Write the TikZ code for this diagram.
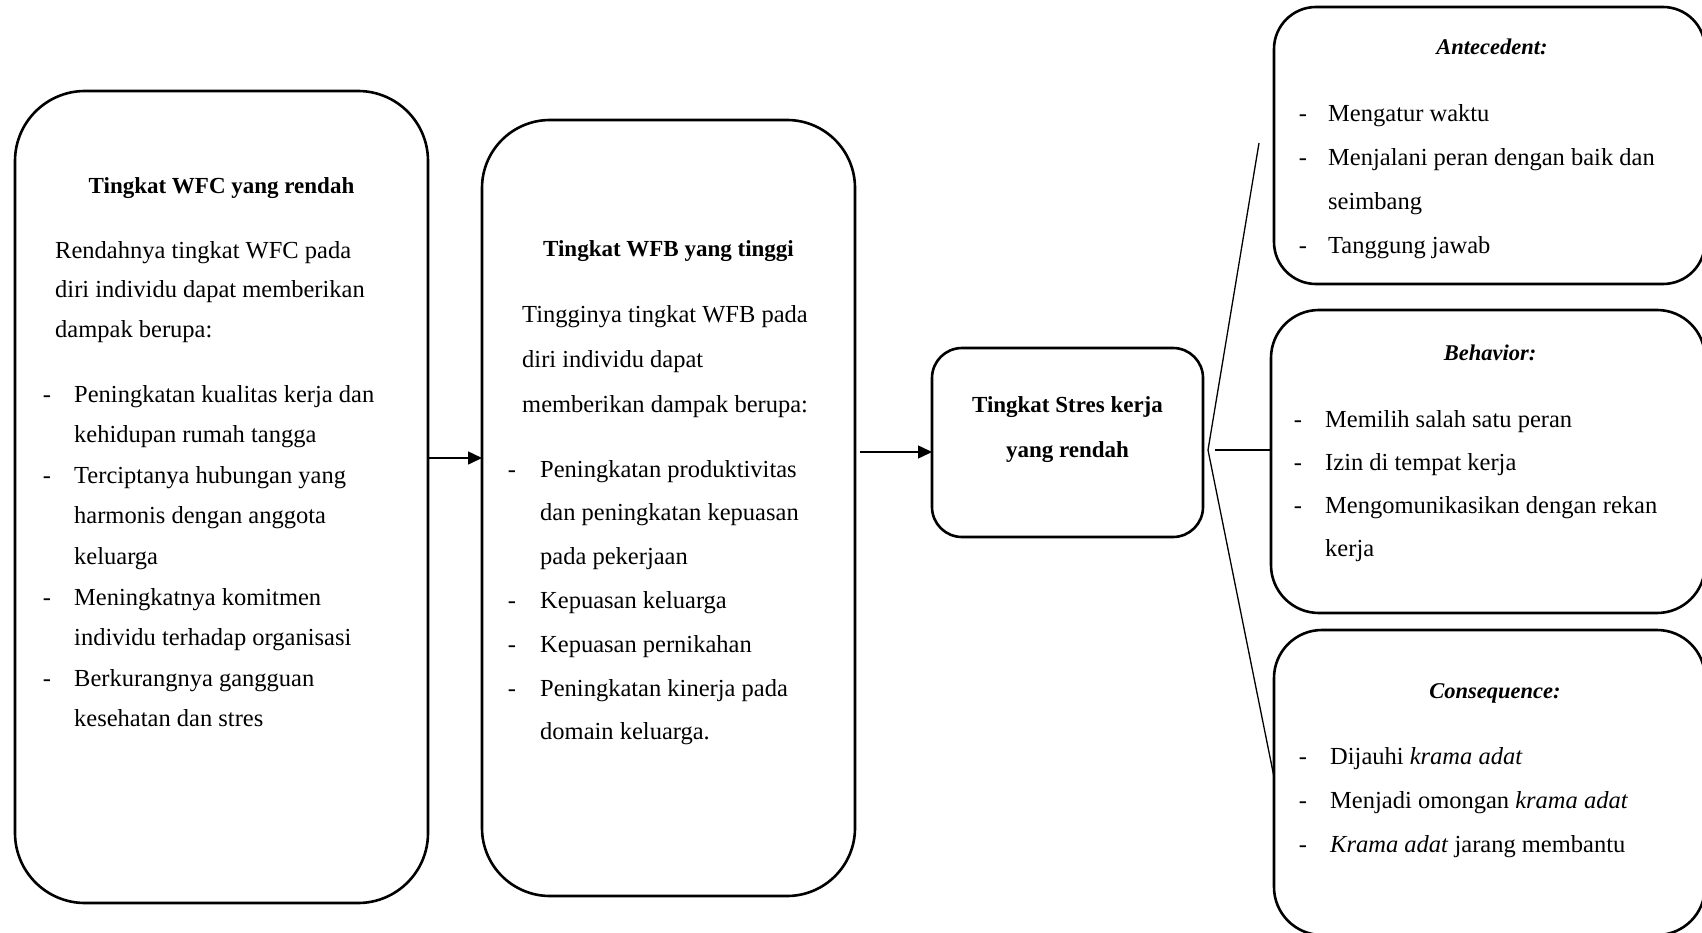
\documentclass[tikz,border=0pt]{standalone}
\usepackage{fontspec}
\setmainfont{Liberation Serif}
\usetikzlibrary{arrows.meta,calc}
\tikzset{
  box/.style={draw, line width=2.6pt, rounded corners=#1, inner sep=0pt, outer sep=0pt},
  txt/.style={inner sep=0pt, font=\fontsize{24.5}{30}\selectfont, anchor=base west},
  dsh/.style={inner sep=0pt, font=\fontsize{24.5}{30}\selectfont, anchor=base},
  ttl/.style={inner sep=0pt, font=\fontsize{23}{28}\selectfont\bfseries, anchor=base},
  itl/.style={inner sep=0pt, font=\fontsize{22.5}{28}\selectfont\bfseries\itshape, anchor=base},
  arr/.style={line width=1.5pt, -{Triangle[length=14pt,width=13pt]}},
  fan/.style={line width=1.3pt}
}
\begin{document}
\begin{tikzpicture}[x=1pt,y=-1pt]
\useasboundingbox (0,0) rectangle (1702,933);
\fill[white] (0,0) rectangle (1702,933);
\clip (0,0) rectangle (1702,933);

% boxes
\node[box=70pt, minimum width=413pt, minimum height=812pt] (wfc) at (221.5,497) {};
\node[box=68pt, minimum width=373pt, minimum height=776pt] (wfb) at (668.5,508) {};
\node[box=30pt, minimum width=271pt, minimum height=189pt] (stres) at (1067.5,442.5) {};
\node[box=42pt, minimum width=431pt, minimum height=277pt] (ante) at (1489.5,145.5) {};
\node[box=48pt, minimum width=434pt, minimum height=303pt] (beh) at (1488,461.5) {};
\node[box=48pt, minimum width=431pt, minimum height=305pt] (cons) at (1489.5,782.5) {};

% box 1 text
\node[ttl] (wfct) at (221.5,194) {Tingkat WFC yang rendah};
\foreach \s [count=\i from 0] in {Rendahnya tingkat WFC pada, diri individu dapat memberikan, dampak berupa:}
  \node[txt] (wfcp\i) at (55,259+39*\i) {\s};
\foreach \d/\s [count=\i from 0] in {1/Peningkatan kualitas kerja dan, 0/kehidupan rumah tangga, 1/Terciptanya hubungan yang, 0/harmonis dengan anggota, 0/keluarga, 1/Meningkatnya komitmen, 0/individu terhadap organisasi, 1/Berkurangnya gangguan, 0/kesehatan dan stres}{
  \node[txt] (wfcb\i) at (74,402+40.6*\i) {\s};
  \ifnum\d=1 \node[dsh] (wfcd\i) at (47,402+40.6*\i) {-};\fi
}

% box 2 text
\node[ttl] (wfbt) at (668.5,257) {Tingkat WFB yang tinggi};
\foreach \s [count=\i from 0] in {Tingginya tingkat WFB pada, diri individu dapat, memberikan dampak berupa:}
  \node[txt] (wfbp\i) at (522,323+44.5*\i) {\s};
\foreach \d/\s [count=\i from 0] in {1/Peningkatan produktivitas, 0/dan peningkatan kepuasan, 0/pada pekerjaan, 1/Kepuasan keluarga, 1/Kepuasan pernikahan, 1/Peningkatan kinerja pada, 0/domain keluarga.}{
  \node[txt] (wfbb\i) at (540,477+43.8*\i) {\s};
  \ifnum\d=1 \node[dsh] (wfbd\i) at (512,477+43.8*\i) {-};\fi
}

% box 3 text
\node[ttl] (strest1) at (1067.5,412) {Tingkat Stres kerja};
\node[ttl] (strest2) at (1067.5,457) {yang rendah};

% antecedent
\node[itl] (antet) at (1492,55) {Antecedent:};
\foreach \d/\s [count=\i from 0] in {1/Mengatur waktu, 1/Menjalani peran dengan baik dan, 0/seimbang, 1/Tanggung jawab}{
  \node[txt] (anteb\i) at (1328,122+43.7*\i) {\s};
  \ifnum\d=1 \node[dsh] (anted\i) at (1303,122+43.7*\i) {-};\fi
}

% behavior
\node[itl] (beht) at (1490,360) {Behavior:};
\foreach \d/\s [count=\i from 0] in {1/Memilih salah satu peran, 1/Izin di tempat kerja, 1/Mengomunikasikan dengan rekan, 0/kerja}{
  \node[txt] (behb\i) at (1325,427+43.3*\i) {\s};
  \ifnum\d=1 \node[dsh] (behd\i) at (1298,427+43.3*\i) {-};\fi
}

% consequence
\node[itl] (const) at (1495,698) {Consequence:};
\foreach \s [count=\i from 0] in {Dijauhi \textit{krama adat}, Menjadi omongan \textit{krama adat}, \textit{Krama adat} jarang membantu}{
  \node[txt] (consb\i) at (1330,764+44*\i) {\s};
  \node[dsh] (consd\i) at (1303,764+44*\i) {-};
}

% connectors
\coordinate (y1) at (0,458);
\coordinate (y2) at (0,452);
\coordinate (v) at (1208,450);
\coordinate (ftop) at (1259,143);
\coordinate (y3) at (0,777);
\draw[arr] (wfc.east |- y1) -- (wfb.west |- y1);
\draw[arr] ([xshift=5pt]wfb.east |- y2) -- (stres.west |- y2);
\draw[fan] (ftop) -- (v) -- (cons.west |- y3);
\draw[fan] ([xshift=7pt]v) -- (beh.west |- v);
\end{tikzpicture}
\end{document}
